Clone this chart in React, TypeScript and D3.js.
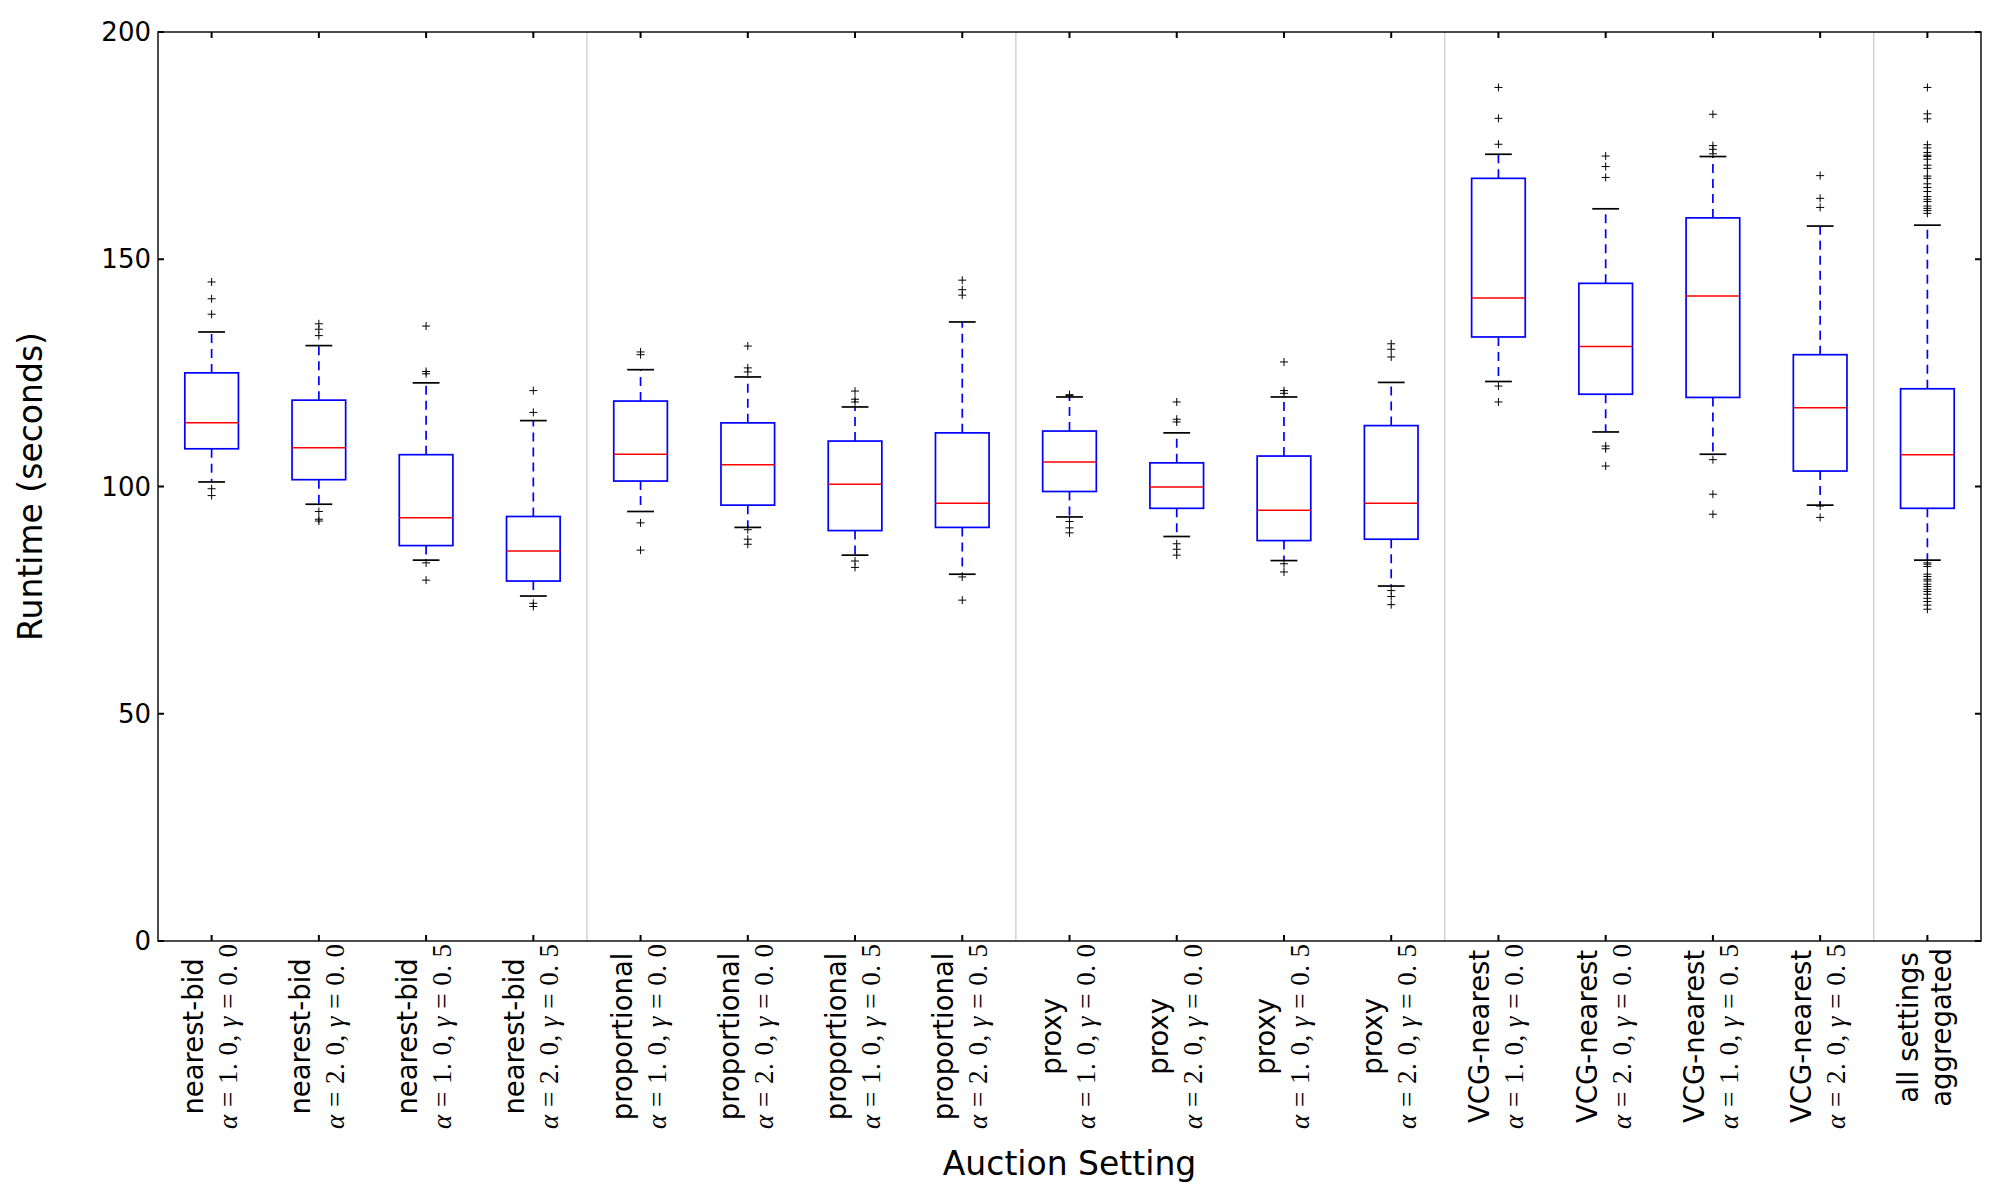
import * as d3 from "d3";
import React, { useEffect, useRef } from "react";

const W = 2000;
const H = 1200;
const plotLeft = 158;
const plotRight = 1981;
const plotTop = 32;
const plotBottom = 941;

// one entry per auction setting, left to right
const mechanisms = [
    "nearest-bid", "nearest-bid", "nearest-bid", "nearest-bid",
    "proportional", "proportional", "proportional", "proportional",
    "proxy", "proxy", "proxy", "proxy",
    "VCG-nearest", "VCG-nearest", "VCG-nearest", "VCG-nearest",
    "all settings",
];
const alphas = ["1.0", "2.0", "1.0", "2.0", "1.0", "2.0", "1.0", "2.0", "1.0", "2.0", "1.0", "2.0", "1.0", "2.0", "1.0", "2.0", ""];
const gammas = ["0.0", "0.0", "0.5", "0.5", "0.0", "0.0", "0.5", "0.5", "0.0", "0.0", "0.5", "0.5", "0.0", "0.0", "0.5", "0.5", ""];

const whiskerLow = [101.0, 96.1, 83.8, 75.9, 94.5, 91.0, 84.9, 80.7, 93.3, 89.0, 83.7, 78.1, 123.1, 112.0, 107.1, 95.9, 83.8];
const q1 = [108.3, 101.5, 87.0, 79.2, 101.2, 95.9, 90.3, 91.0, 98.9, 95.2, 88.1, 88.4, 132.9, 120.3, 119.6, 103.4, 95.2];
const medians = [114.0, 108.5, 93.1, 85.8, 107.1, 104.8, 100.5, 96.3, 105.4, 99.9, 94.8, 96.3, 141.5, 130.8, 141.9, 117.3, 107.0];
const q3 = [125.0, 119.0, 107.0, 93.4, 118.8, 114.0, 110.0, 111.8, 112.2, 105.2, 106.7, 113.4, 167.8, 144.7, 159.1, 129.0, 121.5];
const whiskerHigh = [134.0, 131.0, 122.8, 114.5, 125.7, 124.1, 117.5, 136.2, 119.7, 111.8, 119.7, 122.9, 173.1, 161.1, 172.6, 157.3, 157.5];

const fliers = [
    [145.0, 141.3, 137.9, 99.5, 98.0],
    [135.8, 134.6, 133.2, 94.5, 92.8, 92.4],
    [135.3, 125.3, 124.8, 83.2, 79.4],
    [121.1, 116.3, 74.3, 73.6],
    [129.6, 129.0, 92.0, 86.0],
    [130.9, 126.1, 125.2, 90.5, 88.4, 87.3],
    [121.0, 119.2, 118.6, 83.6, 82.2],
    [145.4, 143.3, 142.1, 80.1, 75.0],
    [120.2, 120.0, 92.3, 90.9, 89.8],
    [118.6, 114.8, 114.2, 87.4, 86.2, 84.9],
    [127.4, 121.1, 120.5, 83.0, 81.2],
    [131.4, 130.2, 128.5, 77.1, 75.8, 74.0],
    [187.8, 181.0, 175.3, 122.1, 118.6],
    [172.7, 170.4, 168.0, 108.9, 108.3, 104.5],
    [181.9, 175.0, 174.2, 173.2, 105.9, 98.3, 93.9],
    [168.4, 163.4, 161.4, 95.7, 93.2],
    [187.8, 182.0, 180.9, 175.2, 174.5, 173.5, 172.9, 172.6, 172.0, 170.7, 170.0, 168.3,
        167.8, 166.6, 165.8, 164.9, 163.8, 163.2, 162.7, 161.7, 161.2, 160.7, 160.1,
        83.2, 82.9, 82.4, 80.7, 80.2, 79.6, 79.2, 78.5, 78.0, 77.4, 76.9, 76.3, 75.4, 74.7, 73.9, 73.0],
];

const yTicks = [0, 50, 100, 150, 200];
const groupBreaks = [4.5, 8.5, 12.5, 16.5];

const sans = "'DejaVu Sans', sans-serif";
const serif = "'Liberation Serif', 'DejaVu Serif', serif";

export default function App() {
    const svgRef = useRef<SVGSVGElement | null>(null);

    useEffect(() => {
        if (!svgRef.current) return;
        const svg = d3.select(svgRef.current);
        svg.selectAll("*").remove();

        const n = mechanisms.length;
        const x = d3.scaleLinear().domain([0.5, n + 0.5]).range([plotLeft, plotRight]);
        const y = d3.scaleLinear().domain([0, 200]).range([plotBottom, plotTop]);
        const boxW = x(1.25) - x(1);   // half of the 0.5 box width
        const capW = boxW / 2;

        svg.append("rect").attr("width", W).attr("height", H).attr("fill", "#fff");

        /* ---------- group separators ---------- */
        groupBreaks.forEach((b) => {
            svg.append("line")
                .attr("x1", x(b)).attr("x2", x(b))
                .attr("y1", plotTop).attr("y2", plotBottom)
                .attr("stroke", "#c8c8c8").attr("stroke-width", 1.2);
        });

        /* ---------- boxes ---------- */
        const boxes = svg.append("g");
        d3.range(n).forEach((i) => {
            const cx = x(i + 1);
            const g = boxes.append("g");

            // whiskers
            [[q3[i], whiskerHigh[i]], [q1[i], whiskerLow[i]]].forEach(([a, b]) => {
                g.append("line")
                    .attr("x1", cx).attr("x2", cx)
                    .attr("y1", y(a)).attr("y2", y(b))
                    .attr("stroke", "#0000ff").attr("stroke-width", 1.7)
                    .attr("stroke-dasharray", "9,6");
            });

            // caps
            [whiskerHigh[i], whiskerLow[i]].forEach((v) => {
                g.append("line")
                    .attr("x1", cx - capW).attr("x2", cx + capW)
                    .attr("y1", y(v)).attr("y2", y(v))
                    .attr("stroke", "#000").attr("stroke-width", 1.7);
            });

            g.append("rect")
                .attr("x", cx - boxW).attr("width", boxW * 2)
                .attr("y", y(q3[i])).attr("height", y(q1[i]) - y(q3[i]))
                .attr("fill", "none").attr("stroke", "#0000ff").attr("stroke-width", 1.7);

            g.append("line")
                .attr("x1", cx - boxW).attr("x2", cx + boxW)
                .attr("y1", y(medians[i])).attr("y2", y(medians[i]))
                .attr("stroke", "#ff0000").attr("stroke-width", 1.5);

            // outliers as '+'
            fliers[i].forEach((v) => {
                const py = y(v);
                g.append("path")
                    .attr("d", `M${cx - 4},${py}H${cx + 4}M${cx},${py - 4}V${py + 4}`)
                    .attr("stroke", "#000").attr("stroke-width", 1);
            });
        });

        /* ---------- frame & ticks ---------- */
        svg.append("rect")
            .attr("x", plotLeft).attr("y", plotTop)
            .attr("width", plotRight - plotLeft).attr("height", plotBottom - plotTop)
            .attr("fill", "none").attr("stroke", "#000").attr("stroke-width", 1.4);

        const ticks = svg.append("g").attr("stroke", "#000").attr("stroke-width", 2);
        d3.range(1, n + 1).forEach((p) => {
            ticks.append("line").attr("x1", x(p)).attr("x2", x(p)).attr("y1", plotBottom).attr("y2", plotBottom - 6);
            ticks.append("line").attr("x1", x(p)).attr("x2", x(p)).attr("y1", plotTop).attr("y2", plotTop + 6);
        });
        yTicks.forEach((t) => {
            ticks.append("line").attr("x1", plotLeft).attr("x2", plotLeft + 6).attr("y1", y(t)).attr("y2", y(t));
            ticks.append("line").attr("x1", plotRight).attr("x2", plotRight - 6).attr("y1", y(t)).attr("y2", y(t));
            svg.append("text")
                .attr("x", plotLeft - 7).attr("y", y(t))
                .attr("text-anchor", "end").attr("dominant-baseline", "central")
                .attr("font-family", sans).attr("font-size", 26)
                .text(t);
        });

        /* ---------- category labels ---------- */
        d3.range(n).forEach((i) => {
            const g = svg.append("g");
            const top = g.append("text")
                .attr("y", -9)
                .attr("text-anchor", "middle")
                .attr("font-family", sans).attr("font-size", 27.5)
                .text(mechanisms[i]);
            let bottom: d3.Selection<SVGTextElement, unknown, null, undefined>;
            if (alphas[i]) {
                bottom = g.append("text")
                    .attr("y", 25)
                    .attr("text-anchor", "middle")
                    .attr("font-family", serif).attr("font-size", 27)
                    .attr("textLength", 185).attr("lengthAdjust", "spacing");
                bottom.append("tspan").attr("font-style", "italic").text("α");
                bottom.append("tspan").text(` = ${alphas[i].replace(".", ". ")}, `);
                bottom.append("tspan").attr("font-style", "italic").text("γ");
                bottom.append("tspan").text(` = ${gammas[i].replace(".", ". ")}`);
            } else {
                bottom = g.append("text")
                    .attr("y", 24)
                    .attr("text-anchor", "middle")
                    .attr("font-family", sans).attr("font-size", 27.5)
                    .text("aggregated");
            }
            const len = Math.max(
                (top.node() as SVGTextElement).getComputedTextLength(),
                (bottom.node() as SVGTextElement).getComputedTextLength()
            );
            g.attr("transform", `translate(${x(i + 1)},${plotBottom + 7 + len / 2}) rotate(-90)`);
        });

        /* ---------- axis titles ---------- */
        svg.append("text")
            .attr("transform", `translate(42,${(plotTop + plotBottom) / 2}) rotate(-90)`)
            .attr("text-anchor", "middle")
            .attr("font-family", sans).attr("font-size", 33)
            .text("Runtime (seconds)");

        svg.append("text")
            .attr("x", (plotLeft + plotRight) / 2).attr("y", 1175)
            .attr("text-anchor", "middle")
            .attr("font-family", sans).attr("font-size", 33)
            .text("Auction Setting");
    }, []);

    return (
        <svg
            ref={svgRef}
            width={W}
            height={H}
            viewBox={`0 0 ${W} ${H}`}
            style={{ position: "absolute", left: 0, top: 0, display: "block" }}
        />
    );
}
